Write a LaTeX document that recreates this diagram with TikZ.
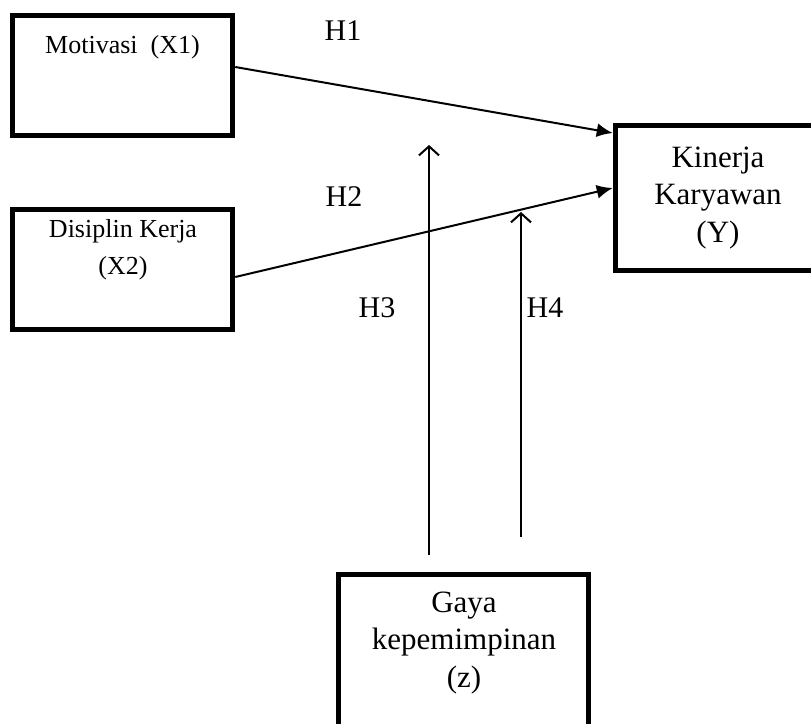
\documentclass[tikz,border=0pt]{standalone}
\usepackage{fontspec}
\setmainfont{Liberation Serif}
\usetikzlibrary{arrows.meta}
\tikzset{box/.style = {draw, line width = 5.5pt, inner sep = 0}}
\tikzset{big/.style = {font = \fontsize{31}{37.5}\selectfont, align = center, inner sep = 0, anchor = base}}
\tikzset{small/.style = {font = \fontsize{26}{37}\selectfont, align = center, inner sep = 0, anchor = base}}
\tikzset{hlbl/.style = {font = \fontsize{30}{36}\selectfont, inner sep = 0, anchor = base}}
\tikzset{sharp/.style = {line width = 2pt, -{Latex[length = 16pt, width = 14pt]}}}
\tikzset{open/.style = {line width = 2pt, -{Straight Barb[length = 9pt, width = 20pt, line width = 2pt]}}}

\begin{document}
\begin{tikzpicture}[x = 1pt, y = -1pt]
    \useasboundingbox (0, 0) rectangle (811, 723);
    \clip (0, 0) rectangle (811, 723);
    % boxes
    \node [box, minimum width = 220pt, minimum height = 120pt] (mot) at (122.5, 75.5) {};
    \node [box, minimum width = 220pt, minimum height = 120pt] (dis) at (122.5, 269.5) {};
    \node [box, minimum width = 205pt, minimum height = 145pt] (kin) at (718, 198) {};
    \node [box, minimum width = 250pt, minimum height = 200pt] (gaya) at (463.5, 674.5) {};
    % texts
    \node [small] (mottxt) at (122.5, 53) {Motivasi\ \ (X1)};
    \node [small] (distxt) at (123, 274) {Disiplin Kerja\\(X2)};
    \node [big] (kintxt) at (718, 242) {Kinerja\\Karyawan\\(Y)};
    \node [big] (gayatxt) at (464, 687) {Gaya\\kepemimpinan\\(z)};
    \node [hlbl] (h1) at (343, 40) {H1};
    \node [hlbl] (h2) at (344, 206) {H2};
    \node [hlbl] (h3) at (377, 317) {H3};
    \node [hlbl] (h4) at (545, 317) {H4};
    % arrows
    \draw [sharp] ([yshift = 8.5pt] mot.east) -- ([yshift = 65pt] kin.west);
    \draw [sharp] ([yshift = -7.5pt] dis.east) -- ([yshift = 10pt] kin.west);
    \coordinate (h3top) at (429, 145);
    \coordinate (h4top) at (521, 212);
    \draw [open] ([xshift = -34.5pt, yshift = 17pt] gaya.north) -- (h3top);
    \draw [open] ([xshift = 57.5pt, yshift = 35pt] gaya.north) -- (h4top);
\end{tikzpicture}
\end{document}
